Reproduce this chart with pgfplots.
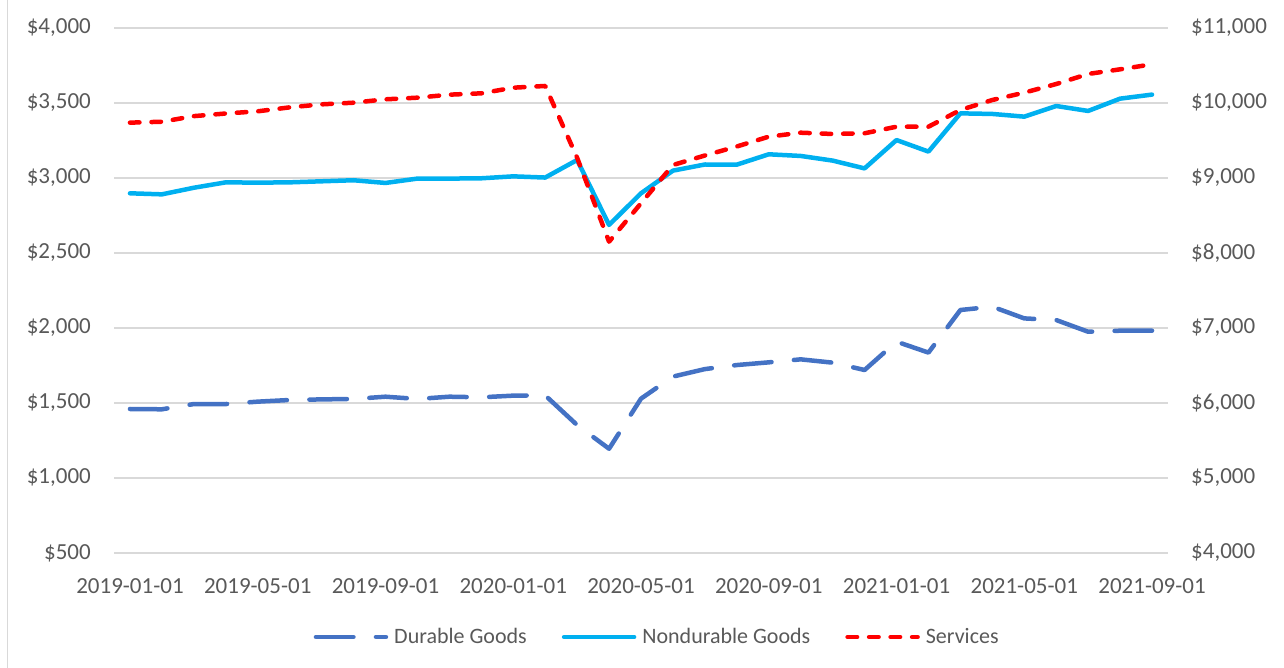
\documentclass[border=0pt]{standalone}
\usepackage{pgfplots}
\pgfplotsset{compat=1.18}
\usepackage{fontspec}
\setmainfont{Carlito}
\definecolor{durable}{HTML}{4472C4}
\definecolor{nondur}{HTML}{00B0F0}
\definecolor{serv}{HTML}{FF0000}
\definecolor{gridc}{HTML}{D9D9D9}
\definecolor{txt}{HTML}{595959}
\tikzset{
  durst/.style={color=durable, line width=4.5bp, line cap=round, line join=round, dash pattern=on 37.5bp off 22.5bp},
  ndst/.style={color=nondur, line width=4.5bp, line cap=round, line join=round},
  svst/.style={color=serv, line width=4.5bp, line cap=round, line join=round, dash pattern=on 9.5bp off 12bp},
}
\pgfplotsset{
  base/.style={
    at={(114bp,115bp)}, anchor=south west,
    width=1054bp, height=525bp, scale only axis,
    xmin=-0.5, xmax=32.5,
    major tick length=0pt,
    axis line style={draw=none},
    scaled y ticks=false,
    clip=false,
    /pgf/number format/.cd, fixed, precision=0, 1000 sep={,}, assume math mode=true,
    /pgfplots/.cd,
    tick label style={font=\fontsize{23bp}{27bp}\selectfont, text=txt},
  }
}
\begin{document}
\begin{tikzpicture}
\path[use as bounding box] (0,0) rectangle (1284bp,668bp);
\draw[gridc, line width=1.3bp] (7.5bp,0) -- (7.5bp,668bp);
\begin{axis}[base,
  ymin=500, ymax=4000,
  ytick={500,1000,...,4000},
  ymajorgrids, grid style={gridc, line width=1.2bp},
  yticklabel={\$\pgfmathprintnumber{\tick}},
  yticklabel style={anchor=east, inner sep=0pt, xshift=-23bp},
  xtick={0,4,...,32},
  xticklabels={2019-01-01,2019-05-01,2019-09-01,2020-01-01,2020-05-01,2020-09-01,2021-01-01,2021-05-01,2021-09-01},
  xticklabel style={anchor=north, inner sep=0pt, yshift=-25bp},
]
\addplot[durst] coordinates {
(0,1460) (1,1458) (2,1493) (3,1493) (4,1509) (5,1520) (6,1524) (7,1527) (8,1542) (9,1527)
(10,1542) (11,1538) (12,1549) (13,1551) (14,1353) (15,1195) (16,1529) (17,1676) (18,1726) (19,1753)
(20,1771) (21,1791) (22,1769) (23,1720) (24,1909) (25,1836) (26,2120) (27,2142) (28,2064) (29,2053)
(30,1975) (31,1982) (32,1982)};
\addplot[ndst] coordinates {
(0,2898) (1,2891) (2,2935) (3,2971) (4,2969) (5,2971) (6,2978) (7,2985) (8,2967) (9,2996)
(10,2996) (11,2998) (12,3011) (13,3003) (14,3120) (15,2687) (16,2898) (17,3049) (18,3090) (19,3089)
(20,3158) (21,3147) (22,3116) (23,3064) (24,3253) (25,3176) (26,3431) (27,3427) (28,3409) (29,3480)
(30,3447) (31,3529) (32,3556)};
\end{axis}
\begin{axis}[base,
  ymin=4000, ymax=11000,
  ytick={4000,5000,...,11000},
  xtick=\empty,
  yticklabel pos=right,
  yticklabel={\$\pgfmathprintnumber{\tick}},
  yticklabel style={anchor=west, inner sep=0pt, xshift=23bp},
  legend image code/.code={\draw[#1] (0bp,0bp) -- (70bp,0bp);},
  legend columns=3,
  legend cell align=left,
  legend style={at={(0.1893,-0.16)}, anchor=west, draw=none, fill=none, inner sep=0pt,
    nodes={inner sep=0pt, text=txt},
    font=\fontsize{22bp}{26bp}\selectfont,
    /tikz/every odd column/.append style={column sep=6bp},
    /tikz/every even column/.append style={column sep=35bp}},
]
\addlegendimage{durst}
\addlegendentry{Durable Goods}
\addlegendimage{ndst}
\addlegendentry{Nondurable Goods}
\addplot[svst] coordinates {
(0,9738) (1,9750) (2,9825) (3,9860) (4,9889) (5,9942) (6,9982) (7,10004) (8,10049) (9,10071)
(10,10111) (11,10129) (12,10204) (13,10227) (14,9270) (15,8151) (16,8663) (17,9173) (18,9300) (19,9420)
(20,9551) (21,9604) (22,9587) (23,9596) (24,9684) (25,9684) (26,9907) (27,10040) (28,10138) (29,10253)
(30,10387) (31,10449) (32,10516)};
\addlegendentry{Services}
\end{axis}
\end{tikzpicture}
\end{document}
